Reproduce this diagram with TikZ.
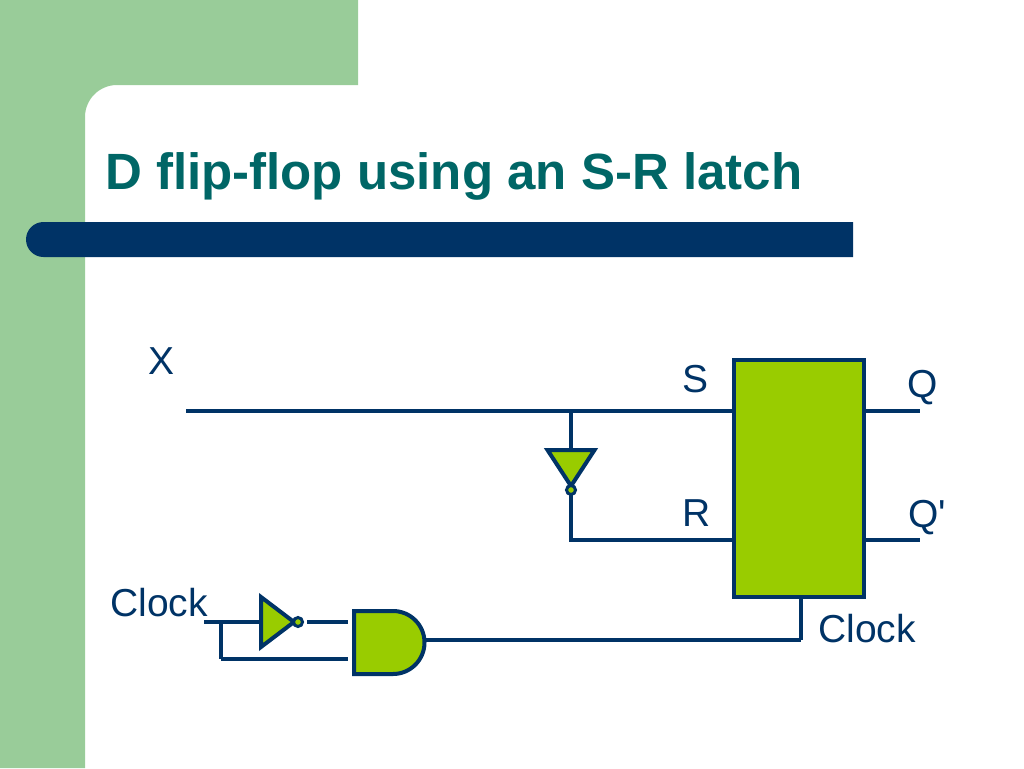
\documentclass[tikz,border=0pt]{standalone}
\usepackage{fontspec}
\setmainfont{Liberation Sans}
\newfontfamily\pinFont{Liberation Sans}
\usetikzlibrary{positioning}
\definecolor{wireColor}{RGB}{0,51,102}
\definecolor{gateColor}{RGB}{153,204,0}
\definecolor{sideColor}{RGB}{153,204,153}
\definecolor{titleColor}{RGB}{0,102,102}
\tikzstyle{slide} = [x = 1pt, y = -1pt]
\tikzstyle{wire} = [color=wireColor, line width=4pt]
\tikzstyle{gateStyle} = [draw=wireColor, fill=gateColor, line width=4pt, line join=miter]
\tikzstyle{bubbleStyle} = [draw=wireColor, fill=gateColor, line width=3pt]
\tikzstyle{pinText} = [font=\pinFont\fontsize{39}{39}\selectfont, text=wireColor, inner sep=0pt]
\newcommand{\inverterGate}[6]{
  \begin{scope}[shift={(#2,#3)}, rotate=#4]
    \filldraw [gateStyle] (0,-#6) -- (0,#6) -- (#5 - 4,0) -- cycle;
    \filldraw [bubbleStyle] (#5,0) circle (4.5);
    \coordinate (#1In) at (0,0);
    \coordinate (#1Out) at (#5 + 5,0);
  \end{scope}
}
\begin{document}
\begin{tikzpicture}[slide]
  \useasboundingbox (0,0) rectangle (1024,768);
  \fill [sideColor] (0,0) -- (358,0) -- (358,85) -- (117,85) arc [start angle=-90, end angle=-180, radius=32] -- (85,768) -- (0,768) -- cycle;
  \node [font=\bfseries\fontsize{51}{51}\selectfont, text=titleColor, anchor=base west, inner sep=0pt] (title) at (105,189) {D flip-flop using an S-R latch};
  \fill [wireColor] (853,222) -- (43.5,222) arc [start angle=-90, end angle=-270, radius=17.5] -- (853,257) -- cycle;

  % latch
  \node [gateStyle, rectangle, minimum width=130pt, minimum height=237pt, inner sep=0pt] (latch) at (799,478.5) {};
  \coordinate (setPin) at (latch.west |- 0,411);
  \coordinate (resetPin) at (latch.west |- 0,540);
  \coordinate (qPin) at (latch.east |- 0,411);
  \coordinate (qBarPin) at (latch.east |- 0,540);
  \coordinate (clockPin) at (801,597);
  \coordinate (inputStart) at (186,411);
  \coordinate (qEnd) at (920,411);
  \coordinate (qBarEnd) at (920,540);
  \coordinate (splitPoint) at (571,411);
  \coordinate (resetCorner) at (571,540);
  \coordinate (clockCorner) at (801,640);

  % inverter on the input
  \inverterGate{dataNot}{571}{450}{-90}{40}{23.5}
  \draw [wire] (inputStart) -- (setPin);
  \draw [wire] (splitPoint) -- (dataNotIn);
  \draw [wire, line cap=square] (dataNotOut) -- (resetCorner) -- (resetPin);
  \draw [wire] (qPin) -- (qEnd);
  \draw [wire] (qBarPin) -- (qBarEnd);

  % clock gating
  \inverterGate{clockNot}{261}{622}{0}{37}{25}
  \filldraw [gateStyle] (354,611) -- (393,611) arc [start angle=-90, end angle=90, radius=31.5] -- (354,674) -- cycle;
  \coordinate (andTop) at (348,622);
  \coordinate (andBottom) at (348,659);
  \coordinate (andOut) at (425,640);
  \coordinate (clockStart) at (204,622);
  \coordinate (clockSplit) at (221,622);
  \coordinate (clockBend) at (221,659);
  \coordinate (notGap) at (307,622);
  \draw [wire] (clockStart) -- (clockNotIn);
  \draw [wire, line cap=square] (clockSplit) -- (clockBend);
  \draw [wire] (clockBend) -- (andBottom);
  \draw [wire] (notGap) -- (andTop);
  \draw [wire] (andOut) -- (clockCorner);
  \draw [wire, line cap=square] (clockCorner) -- (clockPin);

  % labels
  \node [pinText] (xLabel) at (162,361) {X};
  \node [pinText] (sLabel) at (695,379) {S};
  \node [pinText] (rLabel) at (697,513) {R};
  \node [pinText] (qLabel) at (923,388) {Q};
  \node [pinText] (qBarLabel) at (927,518) {Q'};
  \node [pinText] (clockLeft) at (159,603) {Clock};
  \node [pinText] (clockRight) at (867,629) {Clock};
\end{tikzpicture}
\end{document}
